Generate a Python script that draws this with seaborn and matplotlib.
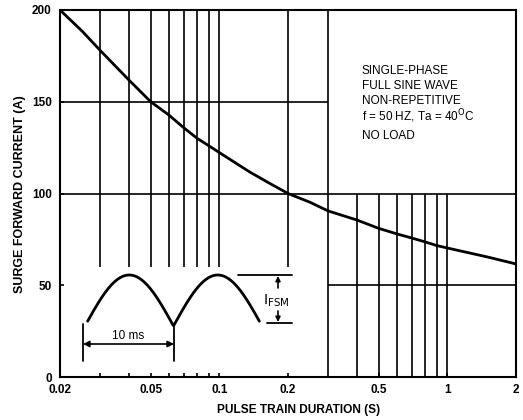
import numpy as np
import pandas as pd
import matplotlib
matplotlib.use("Agg")
import matplotlib.pyplot as plt
import seaborn as sns

# ---- data ----
duration_s = [0.02, 0.025, 0.03, 0.04, 0.05, 0.06, 0.07, 0.08, 0.09, 0.1,
              0.12, 0.136, 0.15, 0.162, 0.2, 0.25, 0.3, 0.4, 0.5, 0.6,
              0.7, 0.8, 0.9, 1.0, 1.5, 2.0]
surge_a = [200, 188.5, 178, 162, 150, 142.8, 135.7, 130, 126, 122.3,
           116, 111.7, 108.7, 106.3, 100, 95.2, 90.5, 85.6, 81, 78,
           75.7, 73.6, 71.6, 70.3, 65.4, 61.6]

xtick_vals = [0.02, 0.05, 0.1, 0.2, 0.5, 1, 2]
xtick_labels = ["0.02", "0.05", "0.1", "0.2", "0.5", "1", "2"]
xminor_vals = [0.03, 0.04, 0.06, 0.07, 0.08, 0.09]
ytick_vals = [0, 50, 100, 150, 200]

grid_upper_left_x = [0.03, 0.04, 0.05, 0.06, 0.07, 0.08, 0.09, 0.1, 0.2]
grid_lower_right_x = [0.4, 0.5, 0.6, 0.7, 0.8, 0.9, 1.0]
box_edge_x = 0.3

note_lines = ["SINGLE-PHASE", "FULL SINE WAVE", "NON-REPETITIVE",
              "f = 50 HZ, Ta = 40$^{\\mathrm{O}}$C", "NO LOAD"]

sns.set_theme(style="white")
FONT = ["Liberation Sans Narrow", "Liberation Sans", "DejaVu Sans"]
plt.rcParams["font.family"] = FONT
plt.rcParams["mathtext.fontset"] = "custom"
plt.rcParams["mathtext.rm"] = "Liberation Sans Narrow"
plt.rcParams["mathtext.it"] = "Liberation Sans Narrow"

fig = plt.figure(figsize=(5.23, 4.2), dpi=100)
ax = fig.add_axes([60 / 523, 1 - 377 / 420, 456 / 523, 367 / 420])

df = pd.DataFrame({"t": duration_s, "i": surge_a})
sns.lineplot(data=df, x="t", y="i", ax=ax, color="black", lw=2.0, zorder=5)

ax.set_xscale("log")
ax.set_xlim(0.02, 2)
ax.set_ylim(0, 200)

glw = 1.2
ax.vlines(grid_upper_left_x, 60, 200, colors="black", lw=glw)
ax.vlines([box_edge_x], 0, 200, colors="black", lw=glw)
ax.vlines(grid_lower_right_x, 0, 100, colors="black", lw=glw)
ax.hlines([150], 0.02, box_edge_x, colors="black", lw=glw)
ax.hlines([100], 0.02, 2, colors="black", lw=glw)
ax.hlines([50], box_edge_x, 2, colors="black", lw=glw)

ax.set_xticks(xtick_vals)
ax.set_xticklabels(xtick_labels)
ax.set_xticks(xminor_vals, minor=True)
ax.set_xticklabels([], minor=True)
ax.set_yticks(ytick_vals)
ax.tick_params(axis="x", which="both", direction="in", length=3, width=1.2,
               bottom=True, top=False, color="black", pad=5)
ax.tick_params(axis="y", direction="in", length=3, width=1.2, left=True,
               color="black", pad=6)
for lab in ax.get_xticklabels() + ax.get_yticklabels():
    lab.set_fontsize(8.5)
    lab.set_fontweight("bold")
    lab.set_color("black")
    lab.set_family(FONT)

for s in ax.spines.values():
    s.set_color("black")
    s.set_linewidth(1.5)

ax.set_xlabel("PULSE TRAIN DURATION (S)", fontsize=8.6, fontweight="bold",
              color="black")
ax.xaxis.set_label_coords((299 - 60) / 456, -(409.5 - 377) / 367)
ax.xaxis.label.set_va("center")
ax.set_ylabel("SURGE FORWARD CURRENT (A)", fontsize=9, fontweight="bold",
              color="black")
ax.yaxis.set_label_coords(-(60 - 20) / 456, (377 - 194) / 367)
ax.yaxis.label.set_va("center")

# ---- overlay for the schematic inset and note (pixel coordinates) ----
ov = fig.add_axes([0, 0, 1, 1], zorder=10)
ov.set_xlim(0, 523)
ov.set_ylim(420, 0)
ov.axis("off")
ov.patch.set_alpha(0)

for i, line in enumerate(note_lines):
    y = 71 + 15 * i + (5 if i == 4 else 0)
    ov.text(362, y, line, fontsize=8.5, ha="left", va="center", color="black")

# full-wave rectified sine sketch
tt = np.linspace(0.03, 1.97, 300)
ov.plot(85 + tt * 88.5, 326 - 51 * np.abs(np.sin(np.pi * tt)), color="black", lw=2.0)

# 10 ms dimension
ov.plot([83, 83], [324, 361], color="black", lw=1.3)
ov.plot([174, 174], [324, 361], color="black", lw=1.3)
ov.annotate("", xy=(83, 344), xytext=(174, 344),
            arrowprops=dict(arrowstyle="<|-|>", color="black", lw=1.2,
                            mutation_scale=9, shrinkA=0, shrinkB=0))
ov.text(128, 336, "10 ms", fontsize=8.5, ha="center", va="center", color="black")

# I_FSM dimension
ov.plot([238, 292], [275, 275], color="black", lw=1.3)
ov.plot([267, 292], [323, 323], color="black", lw=1.3)
ov.annotate("", xy=(278, 276), xytext=(278, 288),
            arrowprops=dict(arrowstyle="-|>", color="black", lw=1.2,
                            mutation_scale=7, shrinkA=0, shrinkB=0))
ov.annotate("", xy=(278, 322), xytext=(278, 311),
            arrowprops=dict(arrowstyle="-|>", color="black", lw=1.2,
                            mutation_scale=7, shrinkA=0, shrinkB=0))
ov.text(263, 301, "I$_{\\mathrm{FSM}}$", fontsize=10.5, ha="left", va="center", color="black")

fig.savefig("out.png", dpi=100)
